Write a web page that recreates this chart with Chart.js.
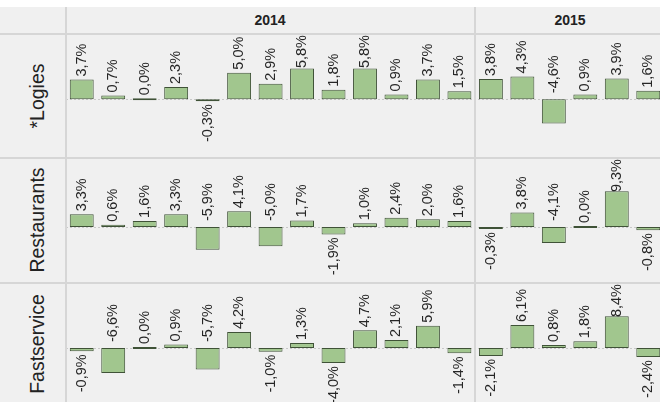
<!DOCTYPE html>
<html>
<head>
<meta charset="utf-8">
<script src="https://cdn.jsdelivr.net/npm/chart.js@4.4.1/dist/chart.umd.min.js"></script>
<style>
  html, body { margin: 0; padding: 0; background: #ffffff; }
  body { width: 660px; height: 402px; overflow: hidden; position: relative; font-family: "Liberation Sans", Arial, sans-serif; }
  #pane { position: absolute; left: 0; top: 7px; width: 660px; height: 395px; background: #f0f0f0; }
  .hline { position: absolute; left: 0; width: 660px; height: 2px; background: #d6d6d6; }
  .vline { position: absolute; top: 7px; width: 2px; height: 395px; background: #d6d6d6; }
  .year { position: absolute; top: 12px; font-weight: bold; font-size: 14px; color: #222; transform: translateX(-50%); }
  .rowlabel { position: absolute; left: 37px; font-size: 19.5px; color: #222; white-space: nowrap; transform: translate(-50%, -50%) rotate(-90deg); }
  canvas { position: absolute; left: 66px; }
</style>
</head>
<body>
<div id="pane"></div>
<canvas id="row-logies" width="598" height="124" style="top:34px"></canvas>
<canvas id="row-restaurants" width="598" height="125" style="top:158px"></canvas>
<canvas id="row-fastservice" width="598" height="125" style="top:283px"></canvas>
<div class="hline" style="top:33px"></div>
<div class="hline" style="top:157px"></div>
<div class="hline" style="top:282px"></div>
<div class="vline" style="left:65px"></div>
<div class="vline" style="left:474px"></div>
<div class="year" id="y2014" style="left:270px"></div>
<div class="year" id="y2015" style="left:570px"></div>
<div class="rowlabel" id="lab0" style="top:96px"></div>
<div class="rowlabel" id="lab1" style="top:220px"></div>
<div class="rowlabel" id="lab2" style="top:344px"></div>
<script>
// years and 4-week periods
var years = ['2014', '2015'];
var periods2014 = ['P1', 'P2', 'P3', 'P4', 'P5', 'P6', 'P7', 'P8', 'P9', 'P10', 'P11', 'P12', 'P13'];
var periods2015 = ['P1', 'P2', 'P3', 'P4', 'P5', 'P6'];
var rowNames = ['*Logies', 'Restaurants', 'Fastservice'];

// growth in % per period
var logies2014 = [3.7, 0.7, 0.0, 2.3, -0.3, 5.0, 2.9, 5.8, 1.8, 5.8, 0.9, 3.7, 1.5];
var logies2015 = [3.8, 4.3, -4.6, 0.9, 3.9, 1.6];
var restaurants2014 = [3.3, 0.6, 1.6, 3.3, -5.9, 4.1, -5.0, 1.7, -1.9, 1.0, 2.4, 2.0, 1.6];
var restaurants2015 = [-0.3, 3.8, -4.1, 0.0, 9.3, -0.8];
var fastservice2014 = [-0.9, -6.6, 0.0, 0.9, -5.7, 4.2, -1.0, 1.3, -4.0, 4.7, 2.1, 5.9, -1.4];
var fastservice2015 = [-2.1, 6.1, 0.8, 1.8, 8.4, -2.4];

document.getElementById('y2014').innerText = years[0];
document.getElementById('y2015').innerText = years[1];
for (let i = 0; i < rowNames.length; i++) {
    document.getElementById('lab' + i).innerText = rowNames[i];
}

const labels = periods2014.map(p => years[0] + ' ' + p).concat(periods2015.map(p => years[1] + ' ' + p));

function fmt(v) {
    return v.toFixed(1).replace('.', ',') + '%';
}

// zero line + value labels, drawn on top of the bars
const paneExtras = {
    id: 'paneExtras',
    beforeDatasetsDraw(chart) {
        const ctx = chart.ctx;
        const area = chart.chartArea;
        const y0 = chart.scales.y.getPixelForValue(0);
        ctx.save();
        ctx.strokeStyle = '#c8c8c8';
        ctx.lineWidth = 1;
        ctx.setLineDash([2, 2]);
        ctx.beginPath();
        ctx.moveTo(area.left, Math.round(y0) + 0.5);
        ctx.lineTo(area.right, Math.round(y0) + 0.5);
        ctx.stroke();
        ctx.restore();
    },
    afterDatasetsDraw(chart) {
        const ctx = chart.ctx;
        const area = chart.chartArea;
        const y0 = chart.scales.y.getPixelForValue(0);
        const values = chart.data.datasets[0].data;
        const meta = chart.getDatasetMeta(0);
        ctx.save();
        ctx.font = '14.5px "Liberation Sans", Arial, sans-serif';
        ctx.fillStyle = '#262626';
        ctx.textBaseline = 'middle';
        ctx.textAlign = 'left';
        meta.data.forEach((bar, i) => {
            const v = values[i];
            const txt = fmt(v);
            const len = ctx.measureText(txt).width;
            const top = Math.min(bar.y, bar.base);
            const bottom = Math.max(bar.y, bar.base);
            let anchor;
            if (v >= 0) {
                anchor = top - 3;
                if (anchor - len < area.top + 1) anchor = area.top + 1 + len;
            } else if (bottom + 3 + len + 4 <= area.bottom) {
                // room below the bar
                anchor = bottom + 3 + len;
            } else {
                // no room, put it above the zero line
                anchor = y0 - 6;
            }
            ctx.save();
            ctx.translate(bar.x, anchor);
            ctx.rotate(-Math.PI / 2);
            ctx.fillText(txt, 0, 0);
            ctx.restore();
        });
        ctx.restore();
    }
};

function makeRow(id, values, yMin, yMax) {
    return new Chart(document.getElementById(id).getContext('2d'), {
        type: 'bar',
        data: {
            labels: labels,
            datasets: [{
                data: values,
                backgroundColor: '#a1c68e',
                borderColor: '#3f5237',
                borderWidth: 1,
                borderSkipped: false,
                minBarLength: 2,
                barPercentage: 0.76,
                categoryPercentage: 1.0
            }]
        },
        options: {
            responsive: false,
            animation: false,
            devicePixelRatio: 1,
            layout: { padding: 0 },
            plugins: {
                legend: { display: false },
                tooltip: { enabled: false }
            },
            scales: {
                x: { display: false },
                y: { display: false, min: yMin, max: yMax }
            }
        },
        plugins: [paneExtras]
    });
}

const logiesChart = makeRow('row-logies', logies2014.concat(logies2015), -11.1, 12.3);
const restaurantsChart = makeRow('row-restaurants', restaurants2014.concat(restaurants2015), -14.5, 17.9);
const fastserviceChart = makeRow('row-fastservice', fastservice2014.concat(fastservice2015), -15.9, 17.2);
</script>
</body>
</html>
